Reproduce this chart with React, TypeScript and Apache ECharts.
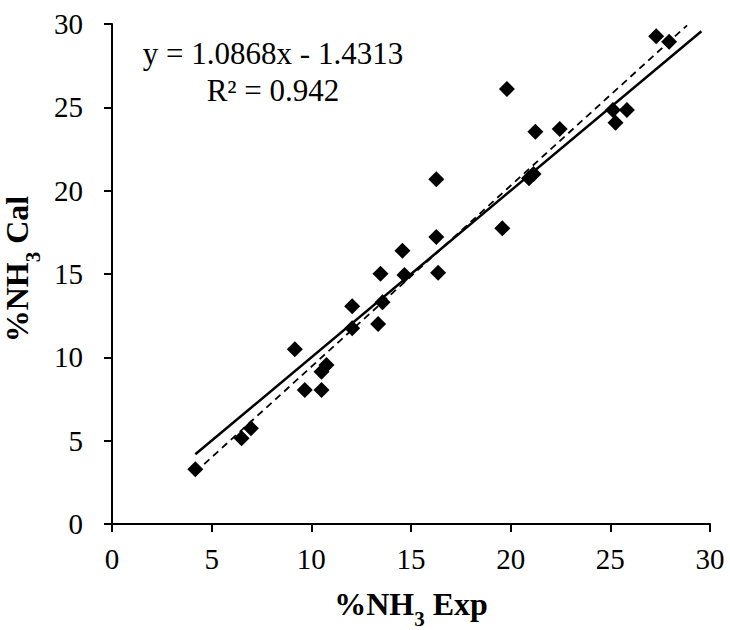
import React, { useEffect, useRef } from "react";
import * as echarts from "echarts";

const FONT = "Liberation Serif";

// Experimental %NH3 (x) vs calculated %NH3 (y)
const expValues = [
  4.18, 6.5, 6.97, 9.17, 9.67, 10.51, 10.51, 10.76, 12.05, 12.05, 13.35, 13.47,
  13.57, 14.57, 14.67, 16.27, 16.27, 16.36, 19.58, 19.81, 20.92, 21.15, 21.24,
  22.46, 25.13, 25.26, 25.83, 27.3, 27.95,
];
const calValues = [
  3.28, 5.14, 5.74, 10.48, 8.04, 8.04, 9.14, 9.54, 13.06, 11.74, 12.0, 15.02,
  13.3, 16.4, 14.94, 20.68, 17.22, 15.08, 17.74, 26.1, 20.74, 21.0, 23.53, 23.7,
  24.84, 24.07, 24.84, 29.27, 28.93,
];

// Solid line (y = x) endpoints and dashed trendline endpoints, as read
const identityX = [4.18, 29.57];
const identityY = [4.18, 29.57];
const trendX = [4.18, 28.85];
const trendY = [3.11, 29.92];

const axisMin = 0;
const axisMax = 30;
const axisInterval = 5;

const equationText = "y = 1.0868x - 1.4313";
const r2Text = "R\u00B2 = 0.942";

export default function App() {
  const ref = useRef<HTMLDivElement>(null);

  useEffect(() => {
    if (!ref.current) return;
    const chart = echarts.init(ref.current, null, { renderer: "svg" });

    const points = expValues.map((x, i) => [x, calValues[i]]);
    const identity = identityX.map((x, i) => [x, identityY[i]]);
    const trend = trendX.map((x, i) => [x, trendY[i]]);

    const richTitle = {
      g: { width: 10, fontSize: 32, lineHeight: 42 },
      a: { fontFamily: FONT, fontSize: 32, fontWeight: "bold", color: "#000", lineHeight: 42 },
      s: {
        fontFamily: FONT,
        fontSize: 21,
        fontWeight: "bold",
        color: "#000",
        lineHeight: 21,
        padding: [31, 0, 0, 0],
      },
    };

    const axisCommon = {
      type: "value",
      min: axisMin,
      max: axisMax,
      interval: axisInterval,
      nameLocation: "middle",
      axisLine: { show: true, onZero: false, lineStyle: { color: "#000", width: 2 } },
      axisTick: { show: true, inside: false, length: 8, lineStyle: { color: "#000", width: 2 } },
      splitLine: { show: false },
      axisLabel: { color: "#000", fontFamily: FONT, fontSize: 29 },
    };

    chart.setOption({
      animation: false,
      backgroundColor: "#fff",
      textStyle: { fontFamily: FONT },
      grid: {
        left: 112,
        top: 24,
        width: 598,
        height: 500,
        containLabel: false,
        outerBoundsMode: "none",
      },
      xAxis: {
        ...axisCommon,
        name: "{a|%NH}{s|3}{a| Exp}",
        nameGap: 39,
        nameTextStyle: { fontFamily: FONT, rich: richTitle },
        axisLabel: { ...axisCommon.axisLabel, margin: 20 },
      },
      yAxis: {
        ...axisCommon,
        name: "{g|}{a|%NH}{s|3}{a| Cal}",
        nameGap: 49,
        nameRotate: 90,
        nameTextStyle: { fontFamily: FONT, rich: richTitle },
        axisLabel: { ...axisCommon.axisLabel, margin: 29 },
      },
      series: [
        {
          type: "line",
          data: identity,
          symbol: "none",
          lineStyle: { color: "#000", width: 2.5 },
          silent: true,
          z: 2,
        },
        {
          type: "line",
          data: trend,
          symbol: "none",
          lineStyle: { color: "#000", width: 1.8, type: [7, 5] },
          silent: true,
          z: 2,
        },
        {
          type: "scatter",
          data: points,
          symbol: "diamond",
          symbolSize: 16,
          itemStyle: { color: "#000", opacity: 1 },
          z: 3,
        },
      ],
      graphic: [
        {
          type: "text",
          x: 273,
          y: 53,
          style: {
            text: equationText,
            fontFamily: FONT,
            fontSize: 31,
            fill: "#000",
            align: "center",
            verticalAlign: "middle",
          },
        },
        {
          type: "text",
          x: 273,
          y: 90,
          style: {
            text: r2Text,
            fontFamily: FONT,
            fontSize: 31,
            fill: "#000",
            align: "center",
            verticalAlign: "middle",
          },
        },
      ],
    });

    return () => chart.dispose();
  }, []);

  return (
    <div
      ref={ref}
      style={{ position: "absolute", left: 0, top: 0, width: 730, height: 630 }}
    />
  );
}
